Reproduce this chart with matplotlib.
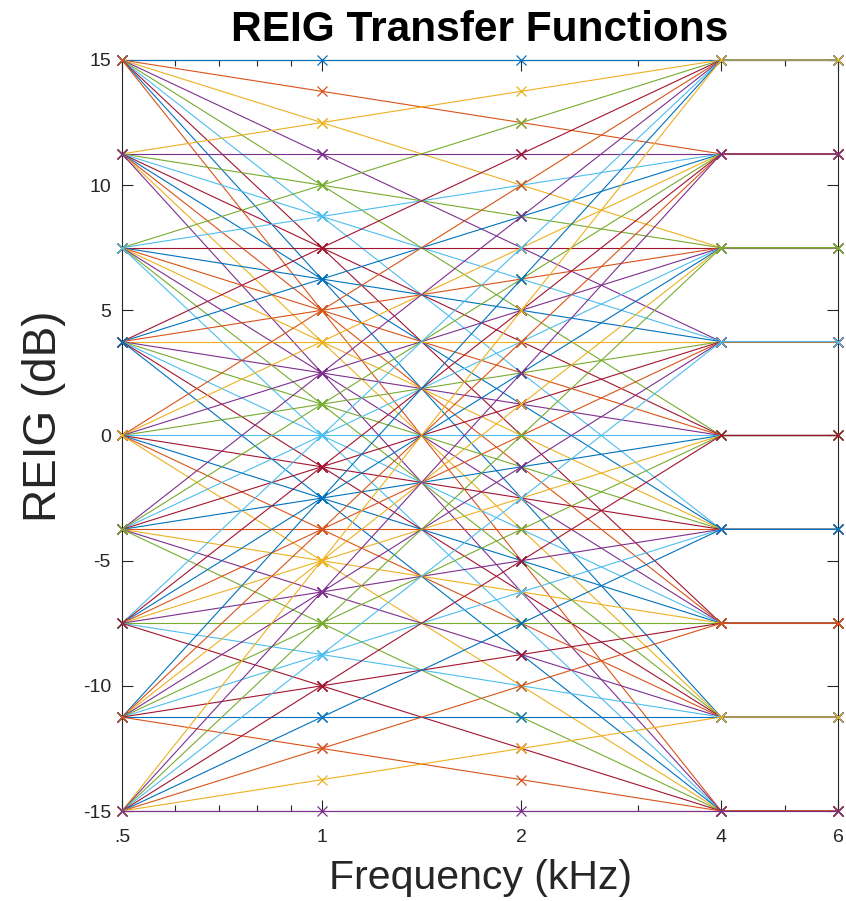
import matplotlib
matplotlib.use("Agg")
import matplotlib.pyplot as plt
import numpy as np
from matplotlib.ticker import FixedLocator, NullFormatter

plt.rcParams['font.family'] = ['Liberation Sans', 'DejaVu Sans']

# data
freqs = [0.5, 1, 2, 4, 6]
levels = [15, 11.25, 7.5, 3.75, 0, -3.75, -7.5, -11.25, -15]
x_ticks = [0.5, 1, 2, 4, 6]
x_ticklabels = ['.5', '1', '2', '4', '6']
y_ticks = [-15, -10, -5, 0, 5, 10, 15]
colors = ['#0072BD', '#D95319', '#EDB120', '#7E2F8E', '#77AC30', '#4DBEEE', '#A2142F']

# each curve: starting level at .5 kHz, ending level at 4 kHz (flat to 6 kHz)
curves = []
for a in levels:
    for b in levels:
        curves.append([a, a + (b - a) / 3, a + 2 * (b - a) / 3, b, b])

fig = plt.figure(figsize=(8.46, 9.01), dpi=100)
ax = fig.add_axes([122/846, 1 - 811/901, (838-122)/846, (811-60)/901])

for i, yv in enumerate(curves):
    ax.plot(freqs, yv, color=colors[i % 7], lw=0.8, marker='x', ms=7, mew=0.9,
            clip_on=False)

ax.set_xscale('log')
ax.set_xlim(0.5, 6)
ax.set_ylim(-15, 15)
ax.xaxis.set_major_locator(FixedLocator(x_ticks))
ax.set_xticklabels(x_ticklabels)
ax.xaxis.set_minor_locator(FixedLocator([0.6, 0.7, 0.8, 0.9, 3, 5]))
ax.xaxis.set_minor_formatter(NullFormatter())
ax.set_yticks(y_ticks)
ax.set_yticklabels([str(v) for v in y_ticks])

ax.tick_params(which='both', direction='in', top=True, right=True, colors='#262626',
               labelsize=14, width=0.8)
ax.tick_params(which='major', length=8)
ax.tick_params(which='minor', length=4)
ax.tick_params(axis='x', pad=13)
ax.tick_params(axis='y', pad=8)
for s in ax.spines.values():
    s.set_color('#262626')
    s.set_linewidth(0.8)
    s.set_zorder(0)

ax.set_title('REIG Transfer Functions', fontsize=30.5, fontweight='bold', pad=14)
ax.set_xlabel('Frequency (kHz)', fontsize=29.5, color='#262626', labelpad=9)
ax.set_ylabel('REIG (dB)', fontsize=33, color='#262626', labelpad=12)
ax.yaxis.label.set_y(0.525)

fig.savefig('out.png', dpi=100)
